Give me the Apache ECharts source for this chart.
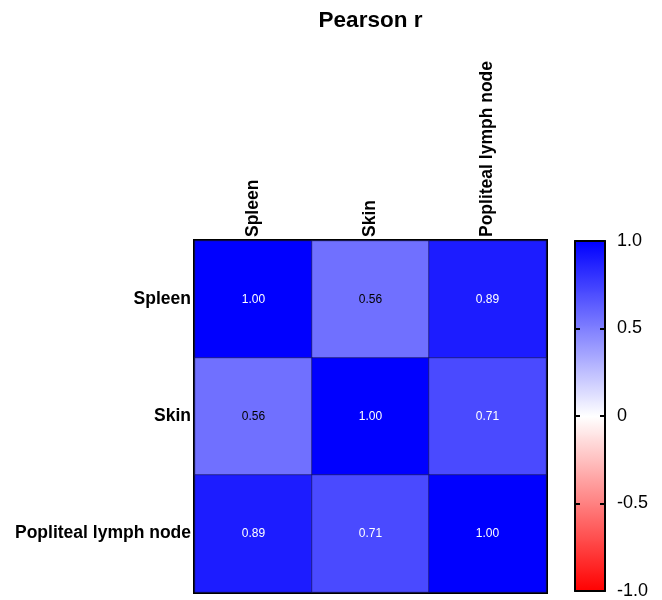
<!DOCTYPE html>
<html><head><meta charset="utf-8">
<script src="https://cdn.jsdelivr.net/npm/echarts@6/dist/echarts.min.js"></script>
<style>html,body{margin:0;padding:0;background:#fff}#c{width:662px;height:600px}</style>
</head><body><div id="c"></div>
<script>
const categories = ['Spleen', 'Skin', 'Popliteal lymph node'];
const rowSpleen = [1.00, 0.56, 0.89];
const rowSkin = [0.56, 1.00, 0.71];
const rowPopliteal = [0.89, 0.71, 1.00];
const colorbarTicks = ['-1.0', '-0.5', '0', '0.5', '1.0'];

const rows = [rowSpleen, rowSkin, rowPopliteal];
const data = [];
rows.forEach((row, yi) => row.forEach((v, xi) => {
  data.push({ value: [xi, yi, v], label: { color: v > 0.6 ? '#ffffff' : '#000000' } });
}));
const tickMap = { '-1': colorbarTicks[0], '-0.5': colorbarTicks[1], '0': colorbarTicks[2], '0.5': colorbarTicks[3], '1': colorbarTicks[4] };

const FONT = 'Liberation Sans, Arial, sans-serif';
const chart = echarts.init(document.getElementById('c'));
const barLine = { show: true, onZero: false, lineStyle: { color: '#000', width: 2 } };
const barTick = { show: true, inside: true, length: 5, lineStyle: { color: '#000', width: 2 } };
chart.setOption({
  animation: false,
  textStyle: { fontFamily: FONT },
  title: { text: 'Pearson r', left: 365.5, textAlign: 'center', top: 4,
    textStyle: { fontFamily: FONT, fontWeight: 'bold', fontSize: 22.5, color: '#000' } },
  grid: [
    { left: 195, right: 116, top: 241, bottom: 8, show: true, borderColor: '#000', borderWidth: 4, backgroundColor: 'transparent' },
    { left: 575, width: 30, top: 241, bottom: 8 }
  ],
  xAxis: [
    { type: 'category', data: categories, position: 'top', gridIndex: 0,
      axisLine: { show: false }, axisTick: { show: false }, splitLine: { show: false },
      axisLabel: { rotate: -90, fontSize: 17.5, fontWeight: 'bold', color: '#000', fontFamily: FONT, margin: 4, interval: 0 } },
    { type: 'value', gridIndex: 1, position: 'bottom', min: 0, max: 1, z: 10,
      axisLine: barLine, axisTick: { show: false }, axisLabel: { show: false }, splitLine: { show: false } },
    { type: 'value', gridIndex: 1, position: 'top', min: 0, max: 1, z: 10,
      axisLine: barLine, axisTick: { show: false }, axisLabel: { show: false }, splitLine: { show: false } }
  ],
  yAxis: [
    { type: 'category', data: categories, inverse: true, gridIndex: 0,
      axisLine: { show: false }, axisTick: { show: false }, splitLine: { show: false },
      axisLabel: { fontSize: 17.5, fontWeight: 'bold', color: '#000', fontFamily: FONT, margin: 4, interval: 0 } },
    { type: 'value', gridIndex: 1, position: 'right', min: -1, max: 1, interval: 0.5, z: 10,
      axisLine: barLine, splitLine: { show: false }, axisTick: barTick,
      axisLabel: { fontSize: 18, color: '#000', fontFamily: FONT, margin: 12,
        formatter: v => tickMap[String(v)] } },
    { type: 'value', gridIndex: 1, position: 'left', min: -1, max: 1, interval: 0.5, z: 10,
      axisLine: barLine, splitLine: { show: false }, axisTick: barTick,
      axisLabel: { show: false } }
  ],
  visualMap: {
    type: 'continuous', min: -1, max: 1, calculable: false, seriesIndex: 0,
    left: 575, top: 241, itemWidth: 30, itemHeight: 351, padding: 0, z: 1,
    text: null, showLabel: false, hoverLink: false,
    inRange: { color: ['#ff0000', '#ffffff', '#0000ff'] }
  },
  series: [{
    type: 'heatmap', xAxisIndex: 0, yAxisIndex: 0, data: data,
    itemStyle: { borderColor: 'rgba(20,20,80,0.6)', borderWidth: 1 },
    label: { show: true, fontSize: 12, fontFamily: FONT, formatter: p => p.value[2].toFixed(2) },
    emphasis: { disabled: true }
  }]
});
</script></body></html>
